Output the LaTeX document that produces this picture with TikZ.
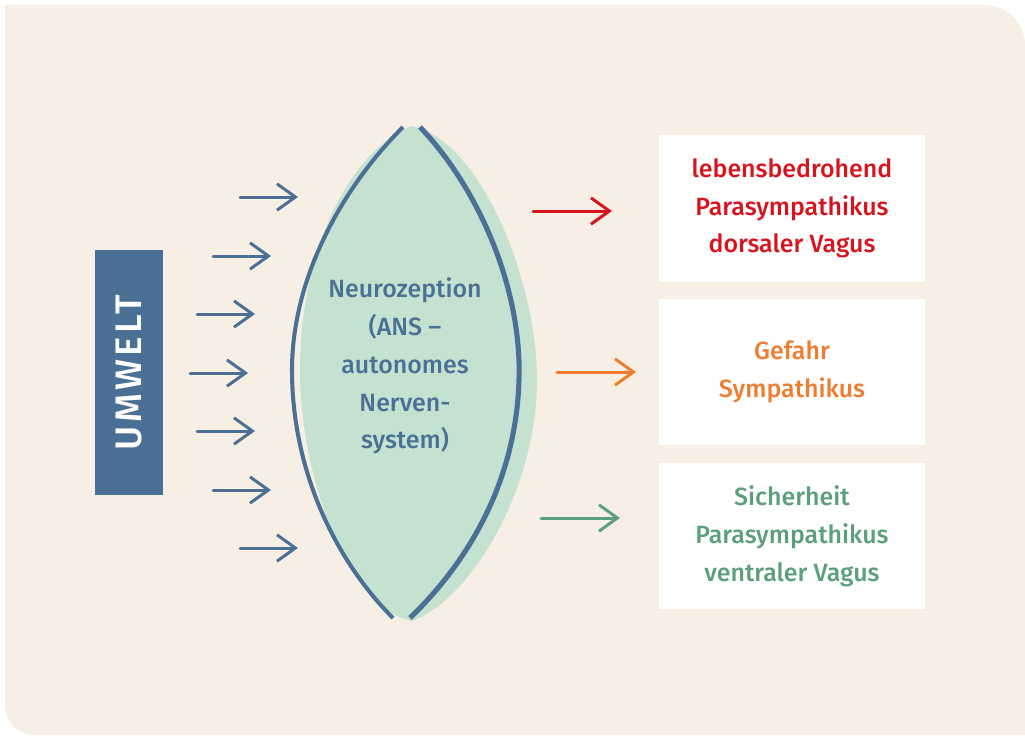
\documentclass[tikz,border=0pt]{standalone}
\usepackage{fontspec}
\setmainfont{Fira Sans Medium}
\newfontfamily\spacedfont{Fira Sans Medium}[LetterSpace=9]
\usepackage{tikz}
\usetikzlibrary{arrows.meta}
\definecolor{beige}{HTML}{F8EFE4}
\definecolor{umblue}{HTML}{4A7096}
\definecolor{lensgreen}{HTML}{C5E2D1}
\definecolor{dangerred}{HTML}{D7141E}
\definecolor{fearorange}{HTML}{EE7D31}
\definecolor{safegreen}{HTML}{5BA07A}

\begin{document}
\begin{tikzpicture}[x=0.02cm,y=-0.02cm]
	\tikzstyle{every node}=[font=\fontsize{14.2}{21.5}\selectfont]
	\tikzstyle{pfeil}=[line width=1.7pt, line cap=round, -{Straight Barb[length=10.5pt,width=15pt,line width=1.7pt]}]
	\tikzstyle{statebox}=[fill=white, minimum width=5.34cm, minimum height=2.94cm, align=center, inner sep=0pt]
	
	\useasboundingbox (0,0) rectangle (1025,735);
	\fill[beige] (5,5) -- (985,5) .. controls (1007,5) and (1025,23) .. (1025,45) -- (1025,735) -- (35,735) .. controls (18,735) and (5,722) .. (5,705) -- cycle;
	
	% Umwelt
	\node[fill=umblue, rotate=90, minimum width=4.9cm, minimum height=1.36cm, text=white, font=\spacedfont\fontsize{21}{24}\selectfont] (umwelt) at (129,372.5) {UMWELT};
	
	\foreach \i/\xa/\yy in {1/240/197, 2/213/256, 3/197/314, 4/190/373, 5/197/431, 6/213/490, 7/240/548}{
		\coordinate (in-\i) at (\xa,\yy);
		\coordinate (in-\i-tip) at (\xa+58,\yy);
		\draw[pfeil, umblue] (in-\i) -- (in-\i-tip);
	}
	
	% Linse
	\fill[lensgreen] (412,126) .. controls (480,140) and (537,280) .. (537,380) .. controls (537,490) and (470,600) .. (412,621) .. controls (350,610) and (300,480) .. (300,370) .. controls (300,250) and (350,150) .. (412,126);
	\draw[umblue, line width=2.3pt] (403,127) .. controls (340,190) and (292,280) .. (292,370) .. controls (292,470) and (335,560) .. (393,618);
	\draw[umblue, line width=2.9pt] (420,127) .. controls (480,190) and (522,290) .. (519,380) .. controls (516,480) and (470,560) .. (410,618);
	\node[text=umblue, align=center] (neuro) at (405,366) {Neurozeption\\(ANS –\\autonomes\\Nerven-\\system)};
	
	% Zustaende
	\node[statebox, text=dangerred] (lebens) at (792,208.5) {lebensbedrohend\\Parasympathikus\\dorsaler Vagus};
	\node[statebox, text=fearorange] (gefahr) at (792,372) {Gefahr\\Sympathikus};
	\node[statebox, text=safegreen] (sicher) at (792,536) {Sicherheit\\Parasympathikus\\ventraler Vagus};
	
	\coordinate (rot-a) at (533,211);
	\coordinate (rot-b) at (612,211);
	\coordinate (orange-a) at (557,372);
	\coordinate (orange-b) at (636,372);
	\coordinate (gruen-a) at (541,518);
	\coordinate (gruen-b) at (620,518);
	\draw[pfeil, dangerred] (rot-a) -- (rot-b);
	\draw[pfeil, fearorange] (orange-a) -- (orange-b);
	\draw[pfeil, safegreen] (gruen-a) -- (gruen-b);
	
\end{tikzpicture}
\end{document}
